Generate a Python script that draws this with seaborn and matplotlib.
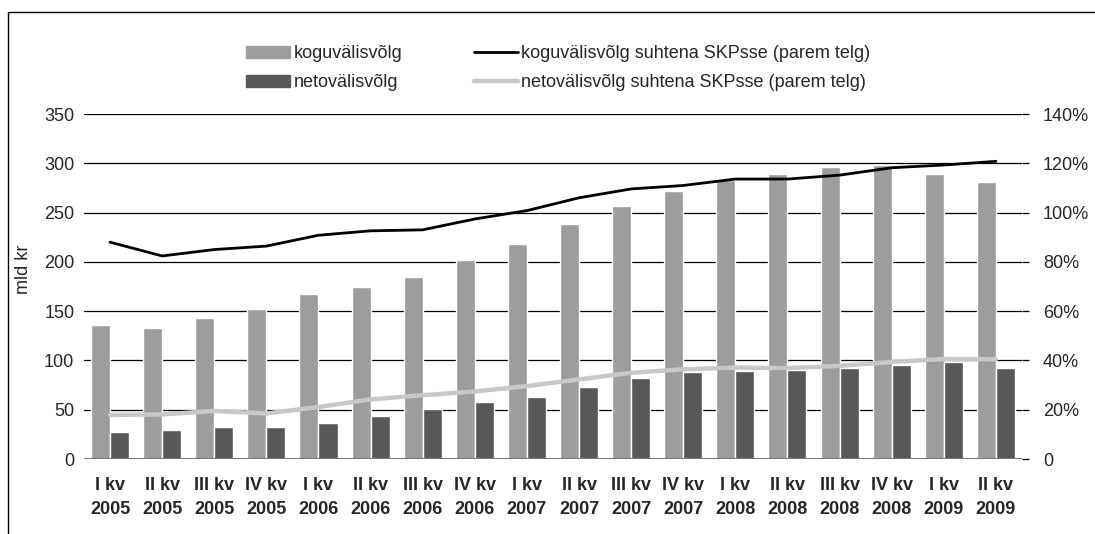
import numpy as np
import pandas as pd
import seaborn as sns
import matplotlib.pyplot as plt
from matplotlib.lines import Line2D
from matplotlib.patches import Patch
from matplotlib.ticker import FuncFormatter

# Kvartalid
kvartalid = ['I kv\n2005', 'II kv\n2005', 'III kv\n2005', 'IV kv\n2005',
             'I kv\n2006', 'II kv\n2006', 'III kv\n2006', 'IV kv\n2006',
             'I kv\n2007', 'II kv\n2007', 'III kv\n2007', 'IV kv\n2007',
             'I kv\n2008', 'II kv\n2008', 'III kv\n2008', 'IV kv\n2008',
             'I kv\n2009', 'II kv\n2009']

# Välisvõlg, mld kr
koguvolg = [136, 133, 143, 152, 167, 175, 185, 202, 218, 238, 257, 272,
            283, 289, 296, 298, 289, 281]
netovolg = [27, 29, 32, 32, 37, 44, 51, 58, 63, 73, 82, 88,
            89, 90, 92, 95, 98, 92]

# Suhtena SKPsse, %
kogu_skp = [88, 82.4, 85, 86.4, 90.8, 92.6, 93, 97.4, 100.8, 106, 109.6, 111,
            113.6, 113.6, 115.2, 118.2, 119.3, 120.8]
neto_skp = [17.9, 18.1, 19.5, 18.5, 21.1, 24.2, 25.9, 27.4, 29.6, 32.3, 35, 36.4,
            37.1, 36.9, 37.8, 39.4, 40.6, 40.5]

nimi_kogu = 'koguvälisvõlg'
nimi_neto = 'netovälisvõlg'
nimi_kogu_skp = 'koguvälisvõlg suhtena SKPsse (parem telg)'
nimi_neto_skp = 'netovälisvõlg suhtena SKPsse (parem telg)'

hele = '#9d9d9f'
tume = '#58585a'
joon_hele = '#c8c8c8'
fs = 13

df = pd.DataFrame({'kvartal': kvartalid * 2,
                   'volg': koguvolg + netovolg,
                   'seeria': [nimi_kogu] * len(kvartalid) + [nimi_neto] * len(kvartalid)})

sns.set_style('white')
plt.rcParams['font.family'] = ['Liberation Sans', 'DejaVu Sans']

fig = plt.figure(figsize=(10.95, 5.34), dpi=100)
ax = fig.add_axes([0.0767, 0.1404, 0.8566, 0.6461])

sns.barplot(data=df, x='kvartal', y='volg', hue='seeria',
            palette=[hele, tume], width=0.73, saturation=1, ax=ax, legend=False)

ax.set_ylim(0, 350)
ax.set_yticks(range(0, 351, 50))
ax.set_xlim(-0.5, len(kvartalid) - 0.5)
ax.grid(axis='y', color='black', linewidth=0.9)
ax.set_axisbelow(True)
ax.set_xlabel('')
ax.set_ylabel('mld kr', fontsize=fs)
ax.yaxis.set_label_coords(-0.055, 0.55)
for s in ax.spines.values():
    s.set_visible(False)
ax.tick_params(axis='y', length=0, labelsize=fs, pad=7)
ax.tick_params(axis='x', length=0, labelsize=fs, pad=13)
for t in ax.get_xticklabels():
    t.set_fontweight('bold')
    t.set_linespacing(1.5)
ax.axhline(0, color='#7a7a7a', linewidth=1.5, zorder=3)

ax2 = ax.twinx()
x_pos = np.arange(len(kvartalid))
ax2.plot(x_pos, kogu_skp, color='black', linewidth=2.0, zorder=5)
ax2.plot(x_pos, neto_skp, color=joon_hele, linewidth=3.2, zorder=5)
ax2.set_ylim(0, 140)
ax2.set_yticks(range(0, 141, 20))
ax2.yaxis.set_major_formatter(FuncFormatter(lambda v, p: '0' if v == 0 else f'{int(v)}%'))
ax2.tick_params(axis='y', length=5, width=0.9, color='black', labelsize=fs, pad=10)
for s in ax2.spines.values():
    s.set_visible(False)
ax2.grid(False)

# Legend
kasitsejad = [Patch(color=hele), Patch(color=tume),
              Line2D([], [], color='black', linewidth=2.0),
              Line2D([], [], color=joon_hele, linewidth=3.2)]
sildid = [nimi_kogu, nimi_neto, nimi_kogu_skp, nimi_neto_skp]
fig.legend(kasitsejad, sildid, ncol=2, loc='center', bbox_to_anchor=(0.510, 0.872),
           frameon=False, fontsize=fs, handlelength=2.4, handletextpad=0.2,
           columnspacing=4.0, labelspacing=0.66)

# Raam
fig.add_artist(Line2D([8 / 1095, 1], [1 - 12 / 534, 1 - 12 / 534], color='black', linewidth=1))
fig.add_artist(Line2D([8 / 1095, 8 / 1095], [0, 1 - 12 / 534], color='black', linewidth=1))

plt.savefig('out.png', dpi=100)
